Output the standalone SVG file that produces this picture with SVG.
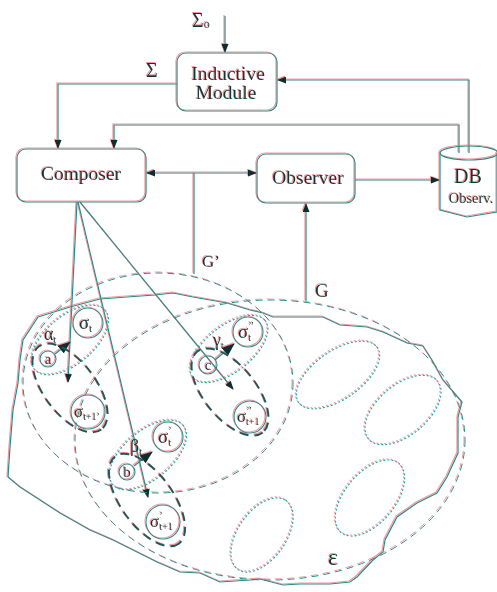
<svg xmlns="http://www.w3.org/2000/svg" width="497" height="592" viewBox="0 0 497 592">
<defs>
<style>
.ln{fill:none;stroke:#2a8a8a;stroke-width:1.2}
.bx{fill:none;stroke:#2a8a8a;stroke-width:1.2}
.tx{font-family:"Liberation Serif","DejaVu Serif",serif;fill:#0f3838}
.lab{font-size:19.5px;text-anchor:middle}
.thin{fill:none;stroke:#2a8a8a;stroke-width:1;stroke-dasharray:7 5}
.thick{fill:none;stroke:#1f5a5a;stroke-width:2;stroke-dasharray:9 6}
.dot{fill:none;stroke:#22a8a8;stroke-width:1.2;stroke-dasharray:1 3;stroke-linecap:round}
.cir{fill:none;stroke:#2a8a8a;stroke-width:1.1}
.sg{font-size:19px}
.gk{font-size:18px}
.sub{font-size:10px}
</style>
<marker id="ah" markerWidth="9" markerHeight="7" refX="8" refY="3.5" orient="auto" markerUnits="userSpaceOnUse">
<path d="M0,0 L9,3.5 L0,7 z" fill="#0d2e2e"/>
</marker>
<marker id="ahs" markerWidth="9" markerHeight="7" refX="1" refY="3.5" orient="auto" markerUnits="userSpaceOnUse">
<path d="M9,0 L0,3.5 L9,7 z" fill="#0d2e2e"/>
</marker>
<marker id="big" markerWidth="13" markerHeight="10" refX="12" refY="5" orient="auto" markerUnits="userSpaceOnUse">
<path d="M0,0 L13,5 L0,10 z" fill="#0d2e2e"/>
</marker>
<filter id="halo" x="-5%" y="-5%" width="110%" height="110%">
<feOffset in="SourceAlpha" dx="-1" dy="-0.6" result="o"/>
<feFlood flood-color="#e04848" flood-opacity="0.55"/>
<feComposite in2="o" operator="in" result="r"/>
<feMerge><feMergeNode in="r"/><feMergeNode in="SourceGraphic"/></feMerge>
</filter>
</defs>
<rect width="497" height="592" fill="#ffffff"/>
<g filter="url(#halo)">
<g id="connectors">
<path class="ln" d="M225,16 V52" marker-end="url(#ah)"/>
<path class="ln" d="M177,84 H58 V148" marker-end="url(#ah)"/>
<path class="ln" d="M459,153 V125 H114 V148" marker-end="url(#ah)"/>
<path class="ln" d="M469,153 V80 H278" marker-end="url(#ah)"/>
<path class="ln" d="M147,173 H256" marker-start="url(#ahs)" marker-end="url(#ah)"/>
<path class="ln" d="M194,173 V274"/>
<path class="ln" d="M355,180 H439" marker-end="url(#ah)"/>
<path class="ln" d="M306,301 V204" marker-end="url(#ah)"/>
<path class="ln" d="M77,202 L68,382" marker-end="url(#ah)"/>
<path class="ln" d="M78,202 L148,497" marker-end="url(#ah)"/>
<path class="ln" d="M80,202 L233,389" marker-end="url(#ah)"/>
<path class="ln" d="M55,354 L70,342" marker-end="url(#big)"/>
<path class="ln" d="M134,466 L152,452" marker-end="url(#big)"/>
<path class="ln" d="M215,360 L234,344" marker-end="url(#big)"/>
</g>
<g id="sigma0"><text class="tx" x="192" y="27" font-size="20">Σ<tspan font-size="12" dy="1">o</tspan></text></g>
<g id="sigma"><text class="tx" x="146" y="77" font-size="20">Σ</text></g>
<g id="inductive">
<rect class="bx" x="177" y="53" width="100" height="58" rx="9"/>
<text class="tx lab" x="228" y="80">Inductive</text>
<text class="tx lab" x="226" y="99">Module</text>
</g>
<g id="composer">
<rect class="bx" x="17" y="149" width="129" height="53" rx="9"/>
<text class="tx lab" x="81" y="180">Composer</text>
</g>
<g id="observer">
<rect class="bx" x="257" y="154" width="98" height="49" rx="9"/>
<text class="tx lab" x="308" y="184">Observer</text>
</g>
<g id="db">
<path class="bx" d="M440,153 V210 L467,217 L497,212 V153"/>
<ellipse class="bx" cx="469" cy="153" rx="29" ry="7"/>
<text class="tx" x="468" y="183" font-size="20" text-anchor="middle">DB</text>
<text class="tx" x="471" y="203" font-size="14.5" text-anchor="middle">Observ.</text>
</g>
<g id="labelG"><text class="tx" x="202" y="267" font-size="17">G’</text><text class="tx" x="315" y="297" font-size="19">G</text></g>
<g id="environment">
<path class="ln" d="M38,317 L70,307 L100,299 L127,297 L155,295 L173,293 L193,297 L227,303 L250,310 L263,313 L273,317 L323,317 L340,325 L367,327 L383,332 L407,343 L423,346 L432,360 L443,380 L462,402 L458,417 L458,453 L447,477 L437,493 L417,503 L397,517 L385,540 L383,552 L373,560 L357,577 L350,582 L330,584 L300,584 L283,585 L260,579 L250,580 L220,582 L200,573 L180,572 L157,562 L133,550 L113,540 L90,530 L60,513 L40,500 L20,487 L8,477 L10,447 L13,410 L18,383 L20,360 L23,340 Z"/>
<text class="tx" x="328" y="565" font-size="24">ε</text>
</g>
<g id="regionG"><ellipse class="thin" cx="270" cy="440" rx="195" ry="140"/></g>
<g id="regionGp"><ellipse class="thin" cx="158" cy="383" rx="135" ry="110"/></g>
<g id="empty">
<ellipse class="dot" cx="338" cy="375" rx="48" ry="24" transform="rotate(-35 338 375)"/>
<ellipse class="dot" cx="403" cy="410" rx="45" ry="25" transform="rotate(-40 403 410)"/>
<ellipse class="dot" cx="370" cy="498" rx="45" ry="25" transform="rotate(-50 370 498)"/>
<ellipse class="dot" cx="262" cy="535" rx="42" ry="24" transform="rotate(-55 262 535)"/>
</g>
<g id="nodeA">
<ellipse class="dot" cx="70" cy="340" rx="46" ry="24" transform="rotate(-40 70 340)"/>
<ellipse class="thick" cx="70" cy="388" rx="52" ry="26" transform="rotate(53 70 388)"/>
<circle class="cir" cx="88" cy="323" r="15"/>
<text class="tx sg" x="79" y="329">σ<tspan class="sub" dy="3">t</tspan></text>
<circle class="cir" cx="48" cy="359" r="8"/>
<text class="tx" x="48" y="364" font-size="15" text-anchor="middle">a</text>
<text class="tx gk" x="44" y="340">α<tspan class="sub" dy="3">t</tspan></text>
<circle class="cir" cx="88" cy="412" r="17"/>
<text class="tx" x="74" y="417" font-size="17">σ<tspan class="sub" dy="3">t+1’</tspan></text>
</g>
<g id="nodeB">
<ellipse class="dot" cx="148" cy="455" rx="46" ry="24" transform="rotate(-40 148 455)"/>
<ellipse class="thick" cx="147" cy="500" rx="54" ry="26" transform="rotate(54 147 500)"/>
<circle class="cir" cx="168" cy="437" r="15"/>
<text class="tx sg" x="158" y="443">σ<tspan class="sub" dy="-9">’</tspan><tspan class="sub" dx="-3" dy="12">t</tspan></text>
<circle class="cir" cx="127" cy="472" r="8"/>
<text class="tx" x="127" y="477" font-size="15" text-anchor="middle">b</text>
<text class="tx gk" x="130" y="452">β<tspan class="sub" dy="3">t</tspan></text>
<circle class="cir" cx="163" cy="522" r="17"/>
<text class="tx" x="150" y="527" font-size="17">σ<tspan class="sub" dy="-8">’</tspan><tspan class="sub" dx="-3" dy="11">t+1</tspan></text>
</g>
<g id="nodeC">
<ellipse class="dot" cx="229" cy="349" rx="46" ry="23" transform="rotate(-38 229 349)"/>
<ellipse class="thick" cx="230" cy="392" rx="52" ry="26" transform="rotate(51 230 392)"/>
<circle class="cir" cx="248" cy="332" r="15"/>
<text class="tx sg" x="238" y="338">σ<tspan class="sub" dy="-9">’’</tspan><tspan class="sub" dx="-6" dy="12">t</tspan></text>
<circle class="cir" cx="208" cy="365" r="9" stroke-width="1.6"/>
<text class="tx" x="208" y="370" font-size="15" text-anchor="middle">c</text>
<text class="tx gk" x="213" y="346">γ<tspan class="sub" dy="3">t</tspan></text>
<circle class="cir" cx="250" cy="417" r="16"/>
<text class="tx" x="237" y="422" font-size="17">σ<tspan class="sub" dy="-8">’’</tspan><tspan class="sub" dx="-6" dy="11">t+1</tspan></text>
</g>
</g>
</svg>
